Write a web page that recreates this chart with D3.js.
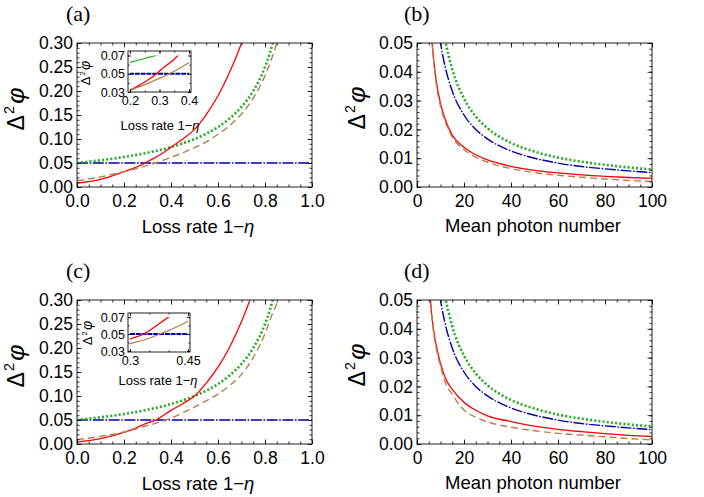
<!DOCTYPE html>
<html>
<head>
<meta charset="utf-8">
<script src="https://cdn.jsdelivr.net/npm/d3@7"></script>
<style>
  body { margin: 0; background: white; }
</style>
</head>
<body>
<div id="container"></div>
<script>
// ---- data ----
// (a) loss rate
const lossGreen = [0, 0.1, 0.2, 0.3, 0.4, 0.5, 0.55, 0.6, 0.65, 0.7, 0.75, 0.8, 0.82, 0.84];
const phiGreen  = [0.05, 0.0556, 0.0625, 0.0714, 0.0833, 0.1, 0.111, 0.125, 0.143, 0.167, 0.2, 0.25, 0.278, 0.3125];
const lossBlue = [0, 1];
const phiBlue  = [0.05, 0.05];
const lossRedA = [0, 0.1, 0.2, 0.25, 0.29, 0.3, 0.35, 0.4, 0.45, 0.5, 0.55, 0.6, 0.65, 0.7, 0.72];
const phiRedA  = [0.008, 0.016, 0.032, 0.041, 0.05, 0.053, 0.066, 0.083, 0.1, 0.12, 0.151, 0.19, 0.24, 0.30, 0.33];
const lossBrownA = [0, 0.1, 0.2, 0.25, 0.3, 0.334, 0.4, 0.45, 0.5, 0.55, 0.6, 0.65, 0.7, 0.75, 0.8, 0.83, 0.85, 0.865];
const phiBrownA  = [0.013, 0.021, 0.032, 0.038, 0.045, 0.05, 0.062, 0.071, 0.082, 0.094, 0.11, 0.128, 0.152, 0.185, 0.232, 0.27, 0.30, 0.33];
// (c) loss rate
const lossRedC = [0, 0.1, 0.2, 0.25, 0.3, 0.336, 0.35, 0.4, 0.45, 0.5, 0.55, 0.6, 0.65, 0.7, 0.74, 0.76];
const phiRedC  = [0.004, 0.011, 0.024, 0.033, 0.044, 0.05, 0.054, 0.07, 0.084, 0.1, 0.127, 0.16, 0.202, 0.255, 0.305, 0.33];
const lossBrownC = [0, 0.1, 0.2, 0.3, 0.35, 0.377, 0.4, 0.45, 0.5, 0.55, 0.6, 0.65, 0.7, 0.75, 0.8, 0.83, 0.855, 0.87];
const phiBrownC  = [0.009, 0.016, 0.025, 0.0386, 0.045, 0.05, 0.054, 0.065, 0.077, 0.09, 0.104, 0.122, 0.145, 0.18, 0.23, 0.27, 0.30, 0.33];
// (b), (d) mean photon number
const nGreen = [10, 12, 15, 20, 25, 30, 40, 50, 60, 70, 80, 90, 100];
const vGreen = [0.0613, 0.0511, 0.0409, 0.0307, 0.0245, 0.0204, 0.0153, 0.0123, 0.0102, 0.0088, 0.0077, 0.0068, 0.0061];
const nBlue = [8, 10, 12, 15, 20, 25, 30, 40, 50, 60, 70, 80, 90, 100];
const vBlue = [0.0625, 0.05, 0.0417, 0.0333, 0.025, 0.02, 0.0167, 0.0125, 0.01, 0.0083, 0.0071, 0.0063, 0.0056, 0.005];
const nRedB = [5, 6.4, 8, 10, 12, 15, 20, 25, 30, 40, 50, 60, 70, 80, 90, 100];
const vRedB = [0.07, 0.05, 0.038, 0.029, 0.0235, 0.018, 0.0138, 0.0112, 0.0094, 0.0072, 0.0058, 0.0049, 0.0042, 0.0037, 0.0033, 0.003];
const nBrownB = [5, 6.5, 8, 10, 12, 15, 20, 25, 30, 40, 50, 60, 70, 80, 90, 100];
const vBrownB = [0.068, 0.05, 0.037, 0.028, 0.0228, 0.0173, 0.013, 0.0104, 0.0086, 0.0064, 0.005, 0.0041, 0.0034, 0.0028, 0.0023, 0.0019];
const nRedD = [4.5, 5.7, 7, 8, 10, 12, 15, 20, 25, 30, 40, 50, 60, 70, 80, 90, 100];
const vRedD = [0.07, 0.05, 0.04, 0.035, 0.028, 0.023, 0.019, 0.0145, 0.0117, 0.0098, 0.0078, 0.0062, 0.0051, 0.0043, 0.0036, 0.003, 0.0026];
const nBrownD = [4.5, 5.8, 7, 8, 10, 12, 15, 20, 25, 30, 40, 50, 60, 70, 80, 90, 100];
const vBrownD = [0.068, 0.05, 0.039, 0.034, 0.027, 0.0215, 0.0172, 0.0118, 0.0093, 0.0077, 0.0058, 0.0046, 0.0037, 0.0031, 0.0025, 0.0019, 0.0014];

// ticks
const lossTicks = [0, 0.2, 0.4, 0.6, 0.8, 1.0];
const phiTicksLoss = [0, 0.05, 0.10, 0.15, 0.20, 0.25, 0.30];
const photonTicks = [0, 20, 40, 60, 80, 100];
const phiTicksPhoton = [0, 0.01, 0.02, 0.03, 0.04, 0.05];
const insetATicksX = [0.2, 0.3, 0.4];
const insetCTicksX = [0.3, 0.45];
const insetTicksY = [0.03, 0.05, 0.07];

let viz = d3.select('#container')
    .append('svg')
      .attr('width', 704)
      .attr('height', 497)
      .style('background', 'white');

const SANS = 'Liberation Sans, Arial, sans-serif';
const SERIF = 'Liberation Serif, Times New Roman, serif';

const styles = {
    green: {stroke: '#1fae1f', width: 2.6, dash: '2,2.2'},
    blue:  {stroke: '#0000a8', width: 1.4, dash: '11,1.6,1.6,1.6'},
    red:   {stroke: '#ff0000', width: 1.3, dash: null},
    brown: {stroke: '#b3804f', width: 1.4, dash: '7,4'}
};
// inset curves are drawn nearly solid
const insetStyles = {
    green: {stroke: '#1fae1f', width: 1.1, dash: null},
    blue:  {stroke: '#0000a8', width: 2.2, dash: '5,0.8'},
    red:   {stroke: '#ff0000', width: 1.3, dash: null},
    brown: {stroke: '#b3804f', width: 1.3, dash: null}
};

let clipId = 0;

function panel(p) {
    let g = viz.append('g');
    let x = d3.scaleLinear().domain(p.xd).range([p.x0 + (p.px || 0), p.x1 - (p.px || 0)]);
    let y = d3.scaleLinear().domain(p.yd).range([p.y1 - (p.pyb || 0), p.y0 + (p.pyt || 0)]);

    if (p.inset) {
        g.append('rect')
            .attr('x', p.x0).attr('y', p.y0)
            .attr('width', p.x1 - p.x0).attr('height', p.y1 - p.y0)
            .attr('fill', 'white');
    }

    let id = 'clip' + (clipId++);
    g.append('clipPath').attr('id', id)
      .append('rect')
        .attr('x', x.range()[0]).attr('y', y.range()[1])
        .attr('width', x.range()[1] - x.range()[0])
        .attr('height', y.range()[0] - y.range()[1]);

    let lines = g.append('g').attr('clip-path', 'url(#' + id + ')');
    let lineGen = d3.line()
        .x(d => x(d[0]))
        .y(d => y(d[1]))
        .curve(d3.curveMonotoneX);

    let sty = p.inset ? insetStyles : styles;
    p.series.forEach(s => {
        let st = sty[s.style];
        let pts = s.xs.map((v, i) => [v, s.ys[i]]);
        lines.append('path')
            .datum(pts)
            .attr('d', lineGen)
            .attr('fill', 'none')
            .attr('stroke', st.stroke)
            .attr('stroke-width', st.width)
            .attr('stroke-dasharray', st.dash);
    });

    // frame
    g.append('rect')
        .attr('x', p.x0).attr('y', p.y0)
        .attr('width', p.x1 - p.x0).attr('height', p.y1 - p.y0)
        .attr('fill', 'none')
        .attr('stroke', '#222')
        .attr('stroke-width', 1);

    let tk = p.inset ? 3 : 4.5, tkm = p.inset ? 1.6 : 2.5;
    function fix(a) {
        a.select('.domain').remove();
        a.attr('font-family', SANS).attr('font-size', p.fs).attr('color', '#000');
        a.selectAll('line').attr('stroke-width', 0.8);
    }
    // bottom
    g.append('g').attr('transform', 'translate(0,' + p.y1 + ')')
        .call(d3.axisBottom(x).tickValues(p.xt).tickSize(-tk).tickPadding(p.xpad).tickFormat(p.xf))
        .call(fix);
    g.append('g').attr('transform', 'translate(0,' + p.y1 + ')')
        .call(d3.axisBottom(x).tickValues(p.xm).tickSize(-tkm).tickFormat(''))
        .call(fix);
    // top
    g.append('g').attr('transform', 'translate(0,' + p.y0 + ')')
        .call(d3.axisTop(x).tickValues(p.xt).tickSize(-tk).tickFormat(''))
        .call(fix);
    g.append('g').attr('transform', 'translate(0,' + p.y0 + ')')
        .call(d3.axisTop(x).tickValues(p.xm).tickSize(-tkm).tickFormat(''))
        .call(fix);
    // left
    g.append('g').attr('transform', 'translate(' + p.x0 + ',0)')
        .call(d3.axisLeft(y).tickValues(p.yt).tickSize(-tk).tickPadding(p.ypad).tickFormat(p.yf))
        .call(fix);
    g.append('g').attr('transform', 'translate(' + p.x0 + ',0)')
        .call(d3.axisLeft(y).tickValues(p.ym).tickSize(-tkm).tickFormat(''))
        .call(fix);
    // right
    g.append('g').attr('transform', 'translate(' + p.x1 + ',0)')
        .call(d3.axisRight(y).tickValues(p.yt).tickSize(-tk).tickFormat(''))
        .call(fix);
    g.append('g').attr('transform', 'translate(' + p.x1 + ',0)')
        .call(d3.axisRight(y).tickValues(p.ym).tickSize(-tkm).tickFormat(''))
        .call(fix);

    // y label  Δ²φ
    let yl = g.append('text')
        .attr('transform', 'translate(' + p.ylx + ',' + p.yly + ') rotate(-90)')
        .attr('text-anchor', 'middle')
        .attr('font-family', SANS)
        .attr('font-size', p.ylfs);
    yl.append('tspan').text('Δ');
    yl.append('tspan').attr('font-size', p.ylfs * 0.62).attr('dy', -p.ylfs * 0.42).attr('dx', p.ylfs * 0.05).text('2');
    yl.append('tspan').attr('font-style', 'italic').attr('font-size', p.ylfs * 1.08)
        .attr('dy', p.ylfs * 0.42).attr('dx', p.ylfs * 0.1).text('φ');

    // x label
    let xl = g.append('text')
        .attr('x', p.xlx).attr('y', p.xly)
        .attr('text-anchor', 'middle')
        .attr('font-family', SANS)
        .attr('font-size', p.xlfs);
    if (p.xlabel === 'loss') {
        xl.append('tspan').text('Loss rate 1\u2212');
        xl.append('tspan').attr('font-style', 'italic').text('η');
    } else {
        xl.text('Mean photon number');
    }

    if (p.tag) {
        g.append('text')
            .attr('x', p.tagx).attr('y', p.tagy)
            .attr('font-family', SERIF)
            .attr('font-size', 22)
            .text(p.tag);
    }
}

const f2 = d3.format('.2f'), f1 = d3.format('.1f'), fd = d3.format('d'), fg = d3.format('~g');
const lossMinor = d3.range(0, 1.0001, 0.05);
const phiLossMinor = d3.range(0, 0.3001, 0.01);
const photonMinor = d3.range(0, 100.1, 5);
const phiPhotonMinor = d3.range(0, 0.0501, 0.002);

function lossSeries(red, redY, brown, brownY) {
    return [
        {xs: lossBlue, ys: phiBlue, style: 'blue'},
        {xs: lossGreen, ys: phiGreen, style: 'green'},
        {xs: red, ys: redY, style: 'red'},
        {xs: brown, ys: brownY, style: 'brown'}
    ];
}
function photonSeries(red, redY, brown, brownY) {
    return [
        {xs: nGreen, ys: vGreen, style: 'green'},
        {xs: nBlue, ys: vBlue, style: 'blue'},
        {xs: red, ys: redY, style: 'red'},
        {xs: brown, ys: brownY, style: 'brown'}
    ];
}

function lossPanel(top, tag, red, redY, brown, brownY) {
    panel({
        x0: 77, x1: 312, y0: top, y1: top + 144,
        xd: [0, 1], yd: [0, 0.3],
        xt: lossTicks, xm: lossMinor, yt: phiTicksLoss, ym: phiLossMinor,
        xf: f1, yf: f2, fs: 17.5, xpad: 8, ypad: 4,
        series: lossSeries(red, redY, brown, brownY),
        ylx: 24, yly: top + 66, ylfs: 23,
        xlabel: 'loss', xlx: 198, xly: top + 190, xlfs: 18.5,
        tag: tag, tagx: 66, tagy: top - 22
    });
}
function photonPanel(top, tag, red, redY, brown, brownY) {
    panel({
        x0: 417, x1: 652, y0: top, y1: top + 144,
        xd: [0, 100], yd: [0, 0.05],
        xt: photonTicks, xm: photonMinor, yt: phiTicksPhoton, ym: phiPhotonMinor,
        xf: fd, yf: f2, fs: 17.5, xpad: 8, ypad: 4,
        series: photonSeries(red, redY, brown, brownY),
        ylx: 365, yly: top + 65, ylfs: 23,
        xlabel: 'photon', xlx: 533, xly: top + 189, xlfs: 18.5,
        tag: tag, tagx: 404, tagy: top - 22
    });
}

lossPanel(43, '(a)', lossRedA, phiRedA, lossBrownA, phiBrownA);
photonPanel(43, '(b)', nRedB, vRedB, nBrownB, vBrownB);
lossPanel(300, '(c)', lossRedC, phiRedC, lossBrownC, phiBrownC);
photonPanel(300, '(d)', nRedD, vRedD, nBrownD, vBrownD);

// insets
panel({
    inset: true,
    x0: 128, x1: 191, y0: 51, y1: 92, px: 2, pyt: 4.5, pyb: 0,
    xd: [0.2, 0.4], yd: [0.03, 0.07],
    xt: insetATicksX, xm: d3.range(0.2, 0.4001, 0.05), yt: insetTicksY, ym: d3.range(0.03, 0.0701, 0.01),
    xf: f1, yf: f2, fs: 12.5, xpad: 4, ypad: 3,
    series: lossSeries(lossRedA, phiRedA, lossBrownA, phiBrownA),
    ylx: 90, yly: 73, ylfs: 13,
    xlabel: 'loss', xlx: 160, xly: 130, xlfs: 13
});
panel({
    inset: true,
    x0: 128, x1: 190, y0: 313, y1: 352, px: 2, pyt: 4, pyb: 1,
    xd: [0.3, 0.45], yd: [0.03, 0.07],
    xt: insetCTicksX, xm: d3.range(0.3, 0.4501, 0.05), yt: insetTicksY, ym: d3.range(0.03, 0.0701, 0.01),
    xf: fg, yf: f2, fs: 12.5, xpad: 4, ypad: 3,
    series: lossSeries(lossRedC, phiRedC, lossBrownC, phiBrownC),
    ylx: 92, yly: 333, ylfs: 13,
    xlabel: 'loss', xlx: 158, xly: 385, xlfs: 13
});
</script>
</body>
</html>
